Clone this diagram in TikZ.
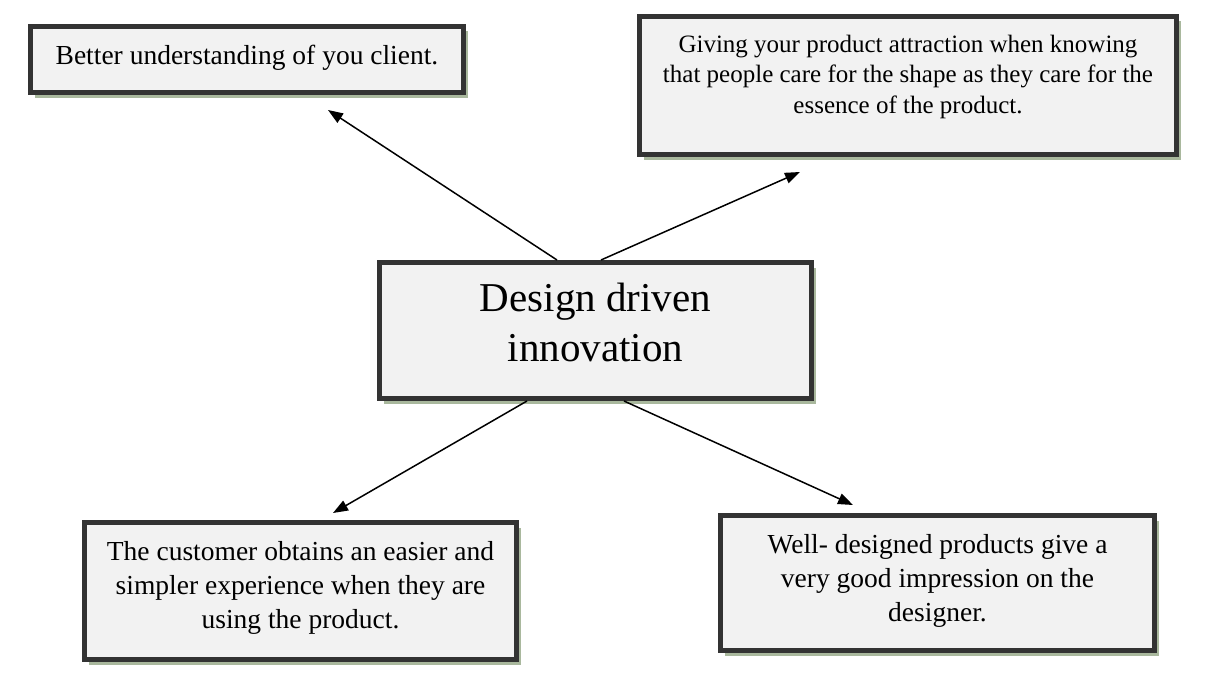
\documentclass[tikz,border=0pt]{standalone}
\usepackage{fontspec}
\setmainfont{Liberation Serif}
\usetikzlibrary{arrows.meta,shadows}
\definecolor{boxfill}{RGB}{242,242,242}
\definecolor{boxdraw}{RGB}{51,51,51}
\definecolor{shadowc}{RGB}{160,176,146}
\tikzset{
  box/.style={draw=boxdraw, line width=5pt, fill=boxfill, rectangle, inner sep=0pt,
    drop shadow={shadow xshift=4pt, shadow yshift=-5pt, fill=shadowc, opacity=0.9}},
  txt/.style={align=center, font=\fontsize{27.5}{34}\selectfont, inner sep=0pt},
  midtxt/.style={align=center, font=\fontsize{25}{30.5}\selectfont, inner sep=0pt},
  bigtxt/.style={align=center, font=\fontsize{41}{50}\selectfont, inner sep=0pt},
  conn/.style={line width=1.5pt, -{Triangle[length=15pt,width=11pt]}}
}
\begin{document}
\begin{tikzpicture}[x=1pt,y=-1pt]
\useasboundingbox (0,0) rectangle (1232,685);
\node[box, minimum width=433pt, minimum height=66pt, txt, text depth=10pt] (b1) at (247,59.5) {Better understanding of you client.};
\node[box, minimum width=537pt, minimum height=138pt, midtxt, text depth=23pt] (b2) at (908,85.5) {Giving your product attraction when knowing\\that people care for the shape as they care for the\\essence of the product.};
\node[box, minimum width=432pt, minimum height=136pt, bigtxt, text depth=16pt] (c) at (595.5,330.5) {Design driven\\innovation};
\node[box, minimum width=432pt, minimum height=137pt, txt, text depth=12pt] (b3) at (300.5,591) {The customer obtains an easier and\\simpler experience when they are\\using the product.};
\node[box, minimum width=434pt, minimum height=135pt, txt, text depth=11pt] (b4) at (937.5,583) {Well- designed products give a\\very good impression on the\\designer.};
\coordinate (s1) at ([xshift=-38.5pt]c.north);
\coordinate (s2) at ([xshift=5.5pt]c.north);
\coordinate (s3) at ([xshift=-68.5pt]c.south);
\coordinate (s4) at ([xshift=28.5pt]c.south);
\coordinate (e1) at (328,110);
\coordinate (e2) at (800,172);
\coordinate (e3) at (333,513);
\coordinate (e4) at (853,505);
\draw[conn] (s1) -- (e1);
\draw[conn] (s2) -- (e2);
\draw[conn] (s3) -- (e3);
\draw[conn] (s4) -- (e4);
\end{tikzpicture}
\end{document}
